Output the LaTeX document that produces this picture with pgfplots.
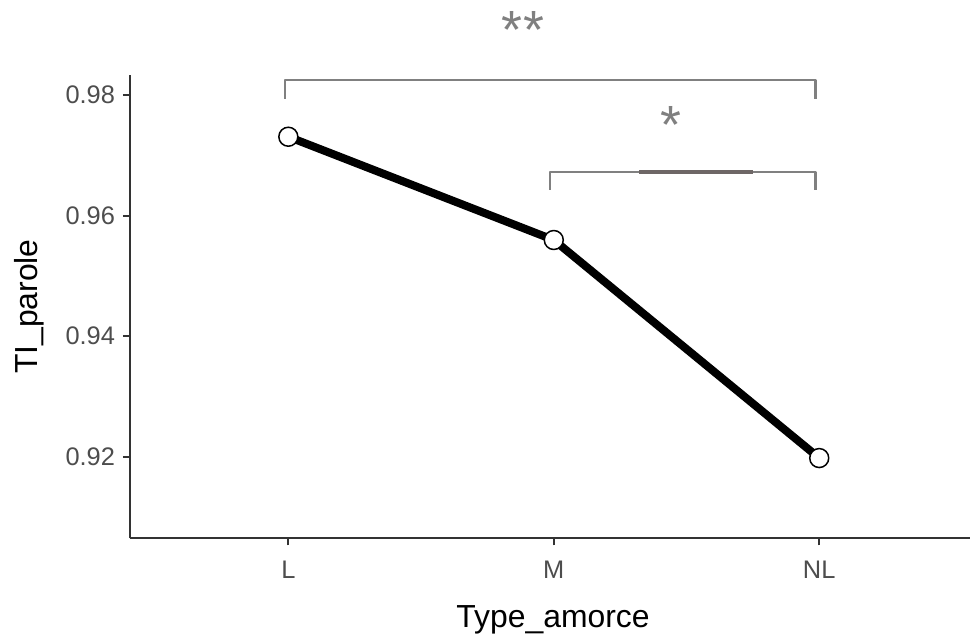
\documentclass[border=0pt]{standalone}
\usepackage{fontspec}
\setmainfont{Liberation Sans}
\usepackage{pgfplots}
\pgfplotsset{compat=1.18}
\definecolor{axgray}{HTML}{333333}
\definecolor{ticktext}{HTML}{4D4D4D}
\definecolor{brk}{HTML}{808080}
\definecolor{brkdark}{HTML}{6E6766}
\begin{document}
\begin{tikzpicture}
\begin{axis}[
 name=ax,
 width=840bp, height=463.3bp, scale only axis,
 xmin=0.4035, xmax=3.568,
 ymin=0.90647, ymax=0.98332,
 axis x line*=bottom, axis y line*=left,
 axis line style={-, draw=axgray, line width=2bp},
 xtick={1,2,3}, xticklabels={L,M,NL},
 ytick={0.92,0.94,0.96,0.98}, yticklabels={0.92,0.94,0.96,0.98},
 tick align=outside, major tick length=7bp,
 tick style={draw=axgray, line width=2bp},
 xticklabel style={font=\fontsize{25.5}{30}\selectfont, text=ticktext, yshift=-12bp},
 yticklabel style={font=\fontsize{25.5}{30}\selectfont, text=ticktext, xshift=-4.5bp},
 xlabel={Type\_amorce}, ylabel={TI\_parole},
 label style={font=\fontsize{32}{36}\selectfont, text=black},
 xlabel style={at={(axis description cs:0.5036,-0.1936)}, anchor=base},
 ylabel style={at={(axis description cs:-0.1107,0.5)}, anchor=base},
 clip=false,
]
\addplot[brk, line width=2.2bp, line join=round, mark=none] coordinates {(0.986,0.97934) (0.986,0.98249) (2.986,0.98249) (2.986,0.97934)};
\addplot[brk, line width=2.2bp, line join=round, mark=none] coordinates {(1.986,0.96425) (1.986,0.96728) (2.986,0.96728) (2.986,0.96425)};
\addplot[brkdark, line width=4bp, mark=none] coordinates {(2.3213,0.96728) (2.7497,0.96728)};
\addplot[black, line width=8bp, line join=round, mark=*, mark size=9.5bp, mark options={fill=white, draw=black, line width=1.5bp}] coordinates {(1,0.97308) (2,0.95595) (3,0.91978)};
\node[text=brk, font=\fontsize{54}{60}\selectfont, inner sep=0pt, anchor=base] at (axis cs:1.884,0.98771) {*\kern2bp*};
\node[text=brk, font=\fontsize{54}{60}\selectfont, inner sep=0pt, anchor=base] at (axis cs:2.442,0.97196) {*};
\end{axis}
\pgfresetboundingbox
\path[use as bounding box] ([xshift=-130bp,yshift=-97.7bp]ax.south west) rectangle ([yshift=75bp]ax.north east);
\end{tikzpicture}
\end{document}
